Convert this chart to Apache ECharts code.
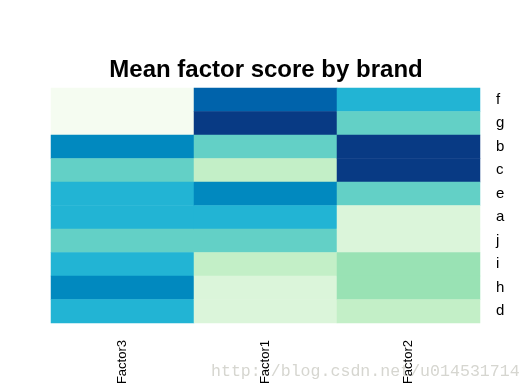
<!DOCTYPE html>
<html><head><meta charset="utf-8">
<script src="https://cdn.jsdelivr.net/npm/echarts@6/dist/echarts.min.js"></script>
<style>html,body{margin:0;padding:0;background:#fff}#c{width:532px;height:392px}</style>
</head><body><div id="c"></div>
<script>
const factors = ['Factor3', 'Factor1', 'Factor2'];
const brands = ['f', 'g', 'b', 'c', 'e', 'a', 'j', 'i', 'h', 'd'];
// colour level (1 = lightest, 9 = darkest) per brand, top to bottom
const factor3 = [1, 1, 7, 5, 6, 6, 5, 6, 7, 6];
const factor1 = [8, 9, 5, 3, 7, 6, 5, 3, 2, 2];
const factor2 = [6, 5, 9, 9, 5, 2, 2, 4, 4, 3];
const palette = ['#f5fcf1', '#dbf5da', '#c3efc7', '#99e2b4', '#63d0c6', '#22b4d4', '#0189bf', '#0063ab', '#083a84'];

const cols = [factor3, factor1, factor2];
const data = [];
cols.forEach((vals, ci) => vals.forEach((v, ri) => data.push([ci, ri, v])));

const chart = echarts.init(document.getElementById('c'));
chart.setOption({
  animation: false,
  title: {
    text: 'Mean factor score by brand', left: 'center', top: 53,
    textStyle: { fontFamily: 'Liberation Sans, Arial', fontSize: 24, fontWeight: 'bold', color: '#000' }
  },
  grid: { left: 51, right: 52, top: 88, bottom: 69 },
  xAxis: {
    type: 'category', data: factors,
    axisLine: { show: false }, axisTick: { show: false }, splitLine: { show: false },
    axisLabel: { rotate: 90, margin: 17, fontFamily: 'Liberation Sans, Arial', fontSize: 13, color: '#000' }
  },
  yAxis: {
    type: 'category', data: brands, inverse: true, position: 'right',
    axisLine: { show: false }, axisTick: { show: false }, splitLine: { show: false },
    axisLabel: { margin: 16, fontFamily: 'Liberation Sans, Arial', fontSize: 15, color: '#000' }
  },
  visualMap: {
    show: false, type: 'piecewise', dimension: 2,
    pieces: palette.map((c, i) => ({ value: i + 1, color: c }))
  },
  series: [{
    type: 'heatmap', data: data,
    itemStyle: { borderWidth: 0 },
    emphasis: { disabled: true }
  }],
  graphic: [{
    type: 'text', left: 211, top: 363, z: -10,
    style: { text: 'http://blog.csdn.net/u014531714', font: '16.6px "Liberation Mono", monospace', fill: '#d6d6d0' }
  }]
});
</script></body></html>
